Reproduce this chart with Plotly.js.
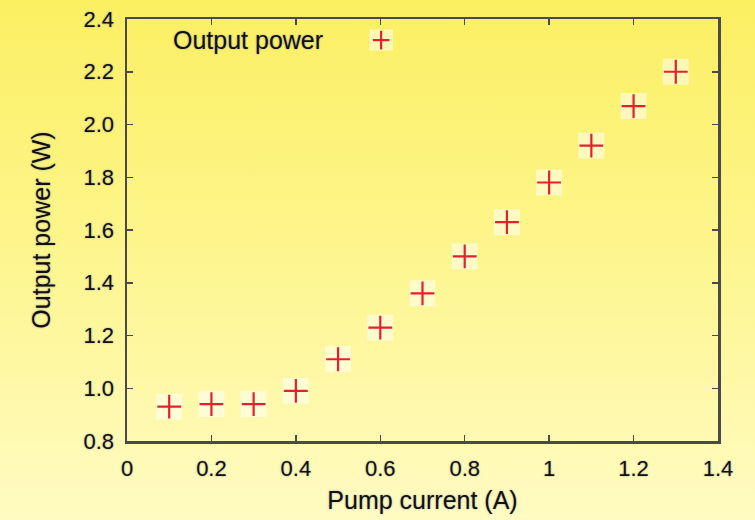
<!DOCTYPE html>
<html>
<head>
<meta charset="utf-8">
<script src="https://cdn.plot.ly/plotly-3.0.1.min.js"></script>
<style>
  html, body { margin: 0; padding: 0; }
  body { width: 755px; height: 520px; background: linear-gradient(to bottom, #fbef62 0%, #fdf58a 45%, #fffbc2 100%); }
  #chart { width: 755px; height: 520px; }
</style>
</head>
<body>
<div id="chart"></div>
<script>
const pumpCurrent = [0.1, 0.2, 0.3, 0.4, 0.5, 0.6, 0.7, 0.8, 0.9, 1.0, 1.1, 1.2, 1.3];
const outputPower = [0.93, 0.94, 0.94, 0.99, 1.11, 1.23, 1.36, 1.50, 1.63, 1.78, 1.92, 2.07, 2.20];
const xTicks = [0, 0.2, 0.4, 0.6, 0.8, 1, 1.2, 1.4];
const yTicks = [0.8, 1.0, 1.2, 1.4, 1.6, 1.8, 2.0, 2.2, 2.4];
const legendLabel = 'Output power';

const frame = '#4a4a4a';
const font = 'Liberation Sans, Arial, sans-serif';
const glow = '0px 0px 2px #9a9a9a';

const halo = {
  x: pumpCurrent, y: outputPower, type: 'scatter', mode: 'markers',
  marker: { symbol: 'square', size: 26, color: 'rgba(255,255,255,0.5)', line: { width: 0 } },
  hoverinfo: 'skip', showlegend: false
};
const points = {
  x: pumpCurrent, y: outputPower, type: 'scatter', mode: 'markers', name: legendLabel,
  marker: { symbol: 'cross-thin', size: 17, line: { color: '#e3202c', width: 2.2 } },
  showlegend: false
};

const layout = {
  width: 755, height: 520,
  paper_bgcolor: 'rgba(0,0,0,0)', plot_bgcolor: 'rgba(0,0,0,0)',
  margin: { l: 127, r: 37, t: 19, b: 79 },
  font: { family: font, color: '#111111', size: 22 },
  xaxis: {
    range: [0, 1.4], tickvals: xTicks, ticktext: xTicks.map(String),
    ticks: 'inside', ticklen: 6, tickcolor: frame, tickwidth: 1.5,
    showline: true, linecolor: frame, linewidth: 2.5, mirror: 'ticks',
    showgrid: false, zeroline: false, ticklabelstandoff: 6,
    title: { text: 'Pump current (A)', font: { size: 25, shadow: glow }, standoff: 12 },
    tickfont: { size: 22, shadow: glow }
  },
  yaxis: {
    range: [0.8, 2.4], tickvals: yTicks, ticktext: yTicks.map(v => v.toFixed(1)),
    ticks: 'inside', ticklen: 6, tickcolor: frame, tickwidth: 1.5,
    showline: true, linecolor: frame, linewidth: 2.5, mirror: 'ticks',
    showgrid: false, zeroline: false, ticklabelstandoff: 6,
    title: { text: 'Output power (W)', font: { size: 25, shadow: glow }, standoff: 26 },
    tickfont: { size: 22, shadow: glow }
  },
  annotations: [{
    xref: 'paper', yref: 'paper', x: 0.075, y: 0.95, xanchor: 'left', yanchor: 'middle',
    text: legendLabel, showarrow: false, font: { size: 25, color: '#111111', shadow: glow }
  }],
  shapes: [
    { type: 'rect', xref: 'paper', yref: 'paper', x0: 0.41, x1: 0.45, y0: 0.925, y1: 0.975,
      fillcolor: 'rgba(255,255,255,0.5)', line: { width: 0 }, layer: 'below' },
    { type: 'line', xref: 'paper', yref: 'paper', x0: 0.416, x1: 0.444, y0: 0.95, y1: 0.95,
      line: { color: '#e3202c', width: 2.2 } },
    { type: 'line', xref: 'paper', yref: 'paper', x0: 0.43, x1: 0.43, y0: 0.928, y1: 0.972,
      line: { color: '#e3202c', width: 2.2 } }
  ]
};

Plotly.newPlot('chart', [halo, points], layout, { displayModeBar: false, staticPlot: true });
</script>
</body>
</html>
